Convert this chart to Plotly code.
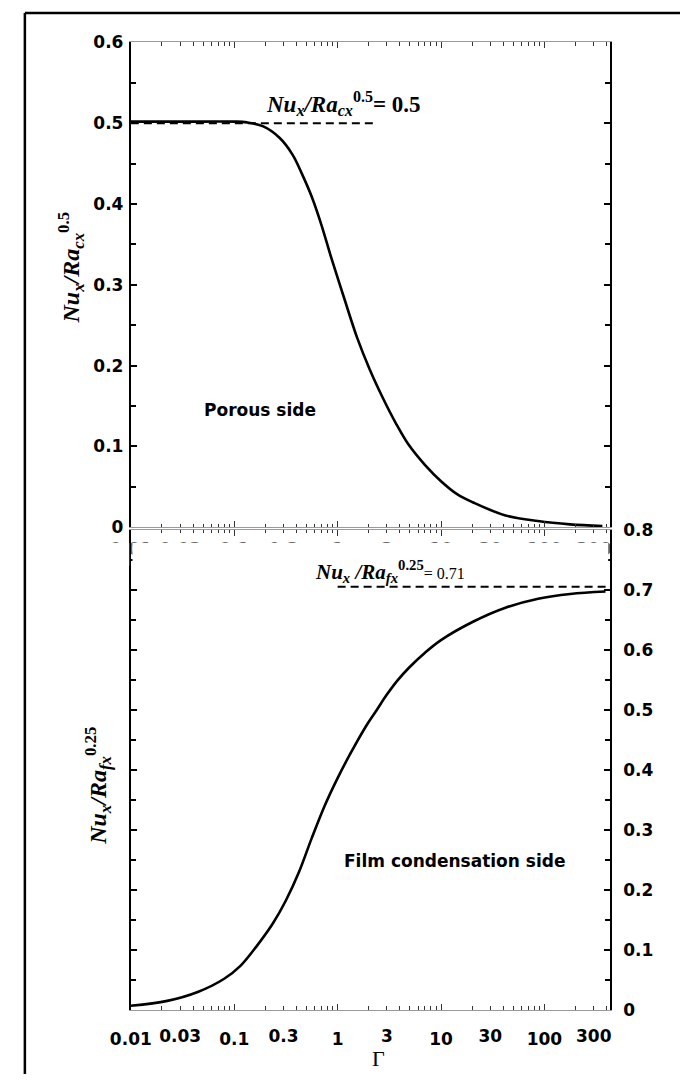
import plotly.graph_objects as go

# ---------------- data ----------------
gamma_porous = [0.01, 0.02, 0.05, 0.1, 0.133, 0.191, 0.274, 0.365, 0.453, 0.562, 0.698,
                0.866, 1.154, 1.54, 2.05, 2.74, 3.65, 4.87, 6.98, 10, 14.3, 20.5,
                42.1, 86.3, 177, 364]
nu_porous = [0.502, 0.502, 0.502, 0.502, 0.501, 0.496, 0.482, 0.4615, 0.437, 0.409, 0.374,
             0.334, 0.284, 0.235, 0.195, 0.160, 0.129, 0.102, 0.0773, 0.057, 0.041, 0.0307,
             0.0146, 0.0077, 0.0036, 0.0016]

gamma_film = [0.01, 0.0225, 0.045, 0.08, 0.1155, 0.165, 0.237, 0.316, 0.422, 0.562, 0.75,
              1.0, 1.34, 1.92, 2.4, 2.96, 3.8, 4.9, 7.0, 10, 20.6, 42, 87, 178, 390]
nu_film = [0.0065, 0.0147, 0.030, 0.0516, 0.0735, 0.106, 0.144, 0.182, 0.229, 0.286, 0.340,
           0.386, 0.428, 0.475, 0.500, 0.524, 0.549, 0.570, 0.595, 0.616, 0.647, 0.670,
           0.685, 0.693, 0.697]

asym_porous_gamma = [0.01, 2.2]
asym_porous_value = [0.5, 0.5]
asym_film_gamma = [1.0, 430]
asym_film_value = [0.705, 0.705]

x_major_vals = [0.01, 0.1, 1, 10, 100]
x_major_text = ["0.01", "0.1", "1", "10", "100"]
x_extra_vals = [0.03, 0.3, 3, 30, 300]
x_extra_text = ["0.03", "0.3", "3", "30", "300"]
x_minor_vals = [m * 10.0 ** e for e in range(-2, 3) for m in range(2, 10)]

y_top_vals = [0, 0.1, 0.2, 0.3, 0.4, 0.5, 0.6]
y_top_text = ["0", "0.1", "0.2", "0.3", "0.4", "0.5", "0.6"]
y_bot_vals = [0, 0.1, 0.2, 0.3, 0.4, 0.5, 0.6, 0.7, 0.8]
y_bot_text = ["0", "0.1", "0.2", "0.3", "0.4", "0.5", "0.6", "0.7", "0.8"]

# ---------------- layout geometry ----------------
W, H = 681, 1084
def px(x):
    return x / W
def py(y):
    return 1 - y / H

x_dom = [px(113.5), px(608.5)]
ytop_dom = [py(527), py(33)]
ybot_dom = [py(1018.5), py(529.5)]
x_range = [-2, 2.633]

SANS = "DejaVu Sans"
SERIF = "Liberation Serif"
tickfont = dict(family=SANS, size=17, color="black", weight="bold")
ghostfont = dict(family=SANS, size=17, color="#666", weight="bold")

fig = go.Figure()
line_style = dict(color="black", width=2.6, shape="spline", smoothing=1.0)
dash_style = dict(color="black", width=2, dash="8px,5px")

fig.add_trace(go.Scatter(x=gamma_porous, y=nu_porous, xaxis="x", yaxis="y",
                         mode="lines", line=line_style, hoverinfo="skip"))
fig.add_trace(go.Scatter(x=asym_porous_gamma, y=asym_porous_value, xaxis="x", yaxis="y",
                         mode="lines", line=dash_style, hoverinfo="skip"))
fig.add_trace(go.Scatter(x=gamma_film, y=nu_film, xaxis="x2", yaxis="y2",
                         mode="lines", line=line_style, hoverinfo="skip"))
fig.add_trace(go.Scatter(x=asym_film_gamma, y=asym_film_value, xaxis="x2", yaxis="y2",
                         mode="lines", line=dash_style, hoverinfo="skip"))
# invisible traces so the label-only overlay axes are drawn
fig.add_trace(go.Scatter(x=[1], y=[None], xaxis="x3", yaxis="y", mode="lines",
                         hoverinfo="skip"))
fig.add_trace(go.Scatter(x=[1], y=[None], xaxis="x4", yaxis="y2", mode="lines",
                         hoverinfo="skip"))

xcommon = dict(type="log", range=x_range, showgrid=False, zeroline=False)
xaxis_main = dict(
    **xcommon, showline=True, linecolor="#9a9a9a", linewidth=1, mirror="ticks",
    ticks="inside", ticklen=6, tickwidth=1, tickcolor="#333",
    tickvals=x_major_vals, ticktext=x_major_text,
    minor=dict(tickvals=x_minor_vals, ticks="inside", ticklen=3.5, tickcolor="#333",
               tickwidth=1, showgrid=False),
)
fig.update_layout(
    width=W, height=H, margin=dict(l=0, r=0, t=0, b=0),
    paper_bgcolor="white", plot_bgcolor="rgba(0,0,0,0)", showlegend=False,
    xaxis=dict(**xaxis_main, domain=x_dom, anchor="y", tickfont=ghostfont,
               ticklabelstandoff=6),
    xaxis3=dict(**xcommon, overlaying="x", anchor="y", side="bottom", showline=False,
                ticks="", tickvals=x_extra_vals, ticktext=x_extra_text,
                tickfont=ghostfont, ticklabelstandoff=10),
    xaxis2=dict(**xaxis_main, domain=x_dom, anchor="y2", tickfont=tickfont,
                ticklabelstandoff=14),
    xaxis4=dict(**xcommon, overlaying="x2", anchor="y2", side="bottom", showline=False,
                ticks="", tickvals=x_extra_vals, ticktext=x_extra_text,
                tickfont=tickfont, ticklabelstandoff=14),
    yaxis=dict(domain=ytop_dom, anchor="x", range=[0, 0.6], showgrid=False,
               zeroline=False, showline=True, linecolor="black", linewidth=2,
               mirror="ticks", ticks="inside", ticklen=6, tickwidth=1.5,
               tickcolor="black", tickvals=y_top_vals, ticktext=y_top_text,
               tickfont=tickfont, ticklabelstandoff=2,
               minor=dict(dtick=0.05, ticks="inside", ticklen=5, tickwidth=1.5,
                          tickcolor="black", showgrid=False)),
    yaxis2=dict(domain=ybot_dom, anchor="x2", side="right", range=[0, 0.8],
                showgrid=False, zeroline=False, showline=True, linecolor="black",
                linewidth=2, mirror="ticks", ticks="inside", ticklen=6, tickwidth=1.5,
                tickcolor="black", tickvals=y_bot_vals, ticktext=y_bot_text,
                tickfont=tickfont, ticklabelstandoff=8,
                minor=dict(dtick=0.05, ticks="inside", ticklen=5, tickwidth=1.5,
                           tickcolor="black", showgrid=False)),
)

# white strips hiding most of the upper panel's tick labels (only their tops peek out)
for x0, x1 in [(85, 111.8), (115.2, 606.8)]:
    fig.add_shape(type="rect", xref="paper", yref="paper", layer="above",
                  x0=px(x0), x1=px(x1), y0=py(566), y1=py(543),
                  fillcolor="white", line=dict(width=0))

# outer frame (left and top)
fig.add_shape(type="line", xref="paper", yref="paper", x0=px(4), x1=px(4),
              y0=0, y1=py(3), line=dict(color="black", width=2.5))
fig.add_shape(type="line", xref="paper", yref="paper", x0=px(4), x1=1,
              y0=py(3), y1=py(3), line=dict(color="black", width=2.5))

def ann(text, x, y, font, angle=0):
    fig.add_annotation(text=text, x=px(x), y=py(y), xref="paper", yref="paper",
                       xanchor="center", yanchor="middle", showarrow=False,
                       textangle=angle, font=font)

ann("<b><i>Nu<sub>x</sub>/Ra<sub>cx</sub></i><sup>0.5</sup>= 0.5</b>", 333, 95,
    dict(family=SERIF, size=23, color="black"))
ann("<b><i>Nu<sub>x</sub> /Ra<sub>fx</sub></i><sup>0.25</sup></b>"
    "<span style='font-size:16px'>= 0.71</span>", 381, 572,
    dict(family=SERIF, size=21, color="black"))
ann("Porous side", 247, 408, dict(family=SANS, size=17, color="black", weight="bold"))
ann("Film condensation side", 448, 867,
    dict(family=SANS, size=17, color="black", weight="bold"))
ann("<b><i>Nu<sub>x</sub>/Ra<sub>cx</sub></i><sup>0.5</sup></b>", 52, 262,
    dict(family=SERIF, size=24, color="black"), angle=-90)
ann("<b><i>Nu<sub>x</sub>/Ra<sub>fx</sub></i><sup>0.25</sup></b>", 80, 790,
    dict(family=SERIF, size=24, color="black"), angle=-90)
ann("Γ", 369, 1068, dict(family=SERIF, size=22, color="black"))

fig.write_html("out.html",
               post_script="document.body.style.margin='0px';"
                           "document.body.style.overflow='hidden';")
